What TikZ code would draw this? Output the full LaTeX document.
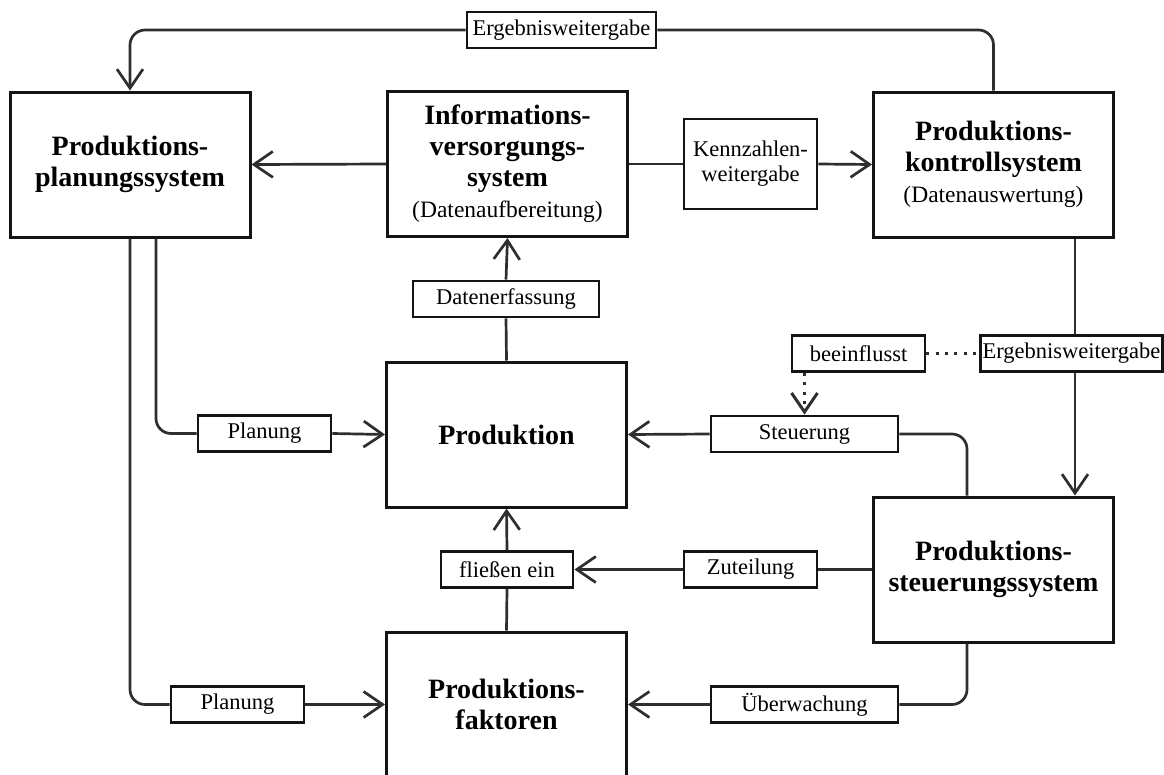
\documentclass[tikz,border=0pt]{standalone}
\usepackage{fontspec}
\setmainfont{Liberation Serif}
\usetikzlibrary{arrows.meta,calc}
\definecolor{linegray}{HTML}{2E2E2E}
\definecolor{boxblack}{HTML}{141414}
\newcommand\heavyfont{\fontsize{28}{31}\selectfont\bfseries}
\newcommand\tagfont{\fontsize{22.5}{25}\selectfont}
\newcommand\notefont{\fontsize{23.5}{27}\selectfont\mdseries}
\begin{document}
\begin{tikzpicture}[
  x=1pt, y=-1pt,
  bigbox/.style={draw=boxblack, line width=3pt, fill=white,
    minimum width=240pt, minimum height=145pt, align=center,
    font=\heavyfont, inner sep=2pt},
  lbl/.style={draw=boxblack, line width=2.8pt, fill=white,
    minimum height=36pt, align=center, font=\tagfont, inner sep=2pt},
  conn/.style={draw=linegray, line width=2.7pt},
  arr/.style={-{Straight Barb[length=19pt,width=26pt]}},
  dots/.style={draw=linegray, line width=3pt, dash pattern=on 3pt off 6.3pt}
]
\useasboundingbox (0,0) rectangle (1164,774);

% main systems
\node[bigbox] (pps) at (130,164.5) {Produktions-\\planungssystem};
\node[bigbox] (ivs) at (507.5,164) {Informations-\\versorgungs-\\system\\{\notefont (Datenaufbereitung)}};
\node[bigbox] (pks) at (993.5,164.5) {Produktions-\\kontrollsystem\\{\notefont (Datenauswertung)}};
\node[bigbox] (prod) at (506.5,434.5) {Produktion};
\node[bigbox] (pss) at (993.5,569.5) {Produktions-\\steuerungssystem};
\begin{scope}
  \clip (0,0) rectangle (1164,774);
  \node[bigbox] (fak) at (506.5,704.5) {Produktions-\\faktoren};
\end{scope}

% flow labels
\node[lbl, minimum width=189pt] (erg1) at (561.5,30) {Ergebnisweitergabe};
\node[lbl, minimum width=133pt, minimum height=90pt] (kenn) at (750.5,164) {Kennzahlen-\\weitergabe};
\node[lbl, minimum width=186pt] (daten) at (506,299) {Datenerfassung};
\node[lbl, minimum width=133pt] (plan1) at (264.5,433.5) {Planung};
\node[lbl, minimum width=187pt] (steu) at (804.5,434) {Steuerung};
\node[lbl, minimum width=133pt] (beein) at (858.5,353.5) {beeinflusst};
\node[lbl, minimum width=181pt] (erg2) at (1071.5,353.5) {Ergebnisweitergabe};
\node[lbl, minimum width=132pt] (flies) at (507,569.5) {fließen ein};
\node[lbl, minimum width=133pt] (zut) at (750.5,569.5) {Zuteilung};
\node[lbl, minimum width=133pt] (plan2) at (237.5,704.5) {Planung};
\node[lbl, minimum width=187pt] (ueb) at (804.5,704.5) {Überwachung};

% result feedback across the top
\draw[conn, rounded corners=15pt] (pks.north) |- (erg1.east);
\draw[conn, arr, rounded corners=15pt] (erg1.west) -| (pps.north);

% information supply
\draw[conn, arr] (ivs.west) -- (pps.east);
\draw[conn] (ivs.east) -- (kenn.west);
\draw[conn, arr] (kenn.east) -- (pks.west);
\draw[conn] (prod.north) -- (daten.south);
\draw[conn, arr] (daten.north) -- (ivs.south);

% planning
\draw[conn, rounded corners=15pt] ([xshift=26pt]pps.south) |- (plan1.west);
\draw[conn, arr] (plan1.east) -- (prod.west);
\draw[conn, rounded corners=15pt] (pps.south) |- (plan2.west);
\draw[conn, arr] (plan2.east) -- (fak.west);

% control
\coordinate (kx) at ([xshift=81.5pt]pks.south);
\draw[conn] (kx) -- (kx |- erg2.north);
\draw[conn, arr] (kx |- erg2.south) -- (kx |- pss.north);
\draw[dots] (beein.east) -- (erg2.west);
\draw[dots, arr] (beein.south -| steu.north) -- (steu.north);
\draw[conn, rounded corners=15pt] ([xshift=-26.5pt]pss.north) |- (steu.east);
\draw[conn, arr] (steu.west) -- (prod.east);
\draw[conn] (pss.west) -- (zut.east);
\draw[conn, arr] (zut.west) -- (flies.east);
\draw[conn] (fak.north) -- (flies.south);
\draw[conn, arr] (flies.north) -- (prod.south);
\draw[conn, rounded corners=15pt] ([xshift=-26.5pt]pss.south) |- (ueb.east);
\draw[conn, arr] (ueb.west) -- (fak.east);
\end{tikzpicture}
\end{document}
